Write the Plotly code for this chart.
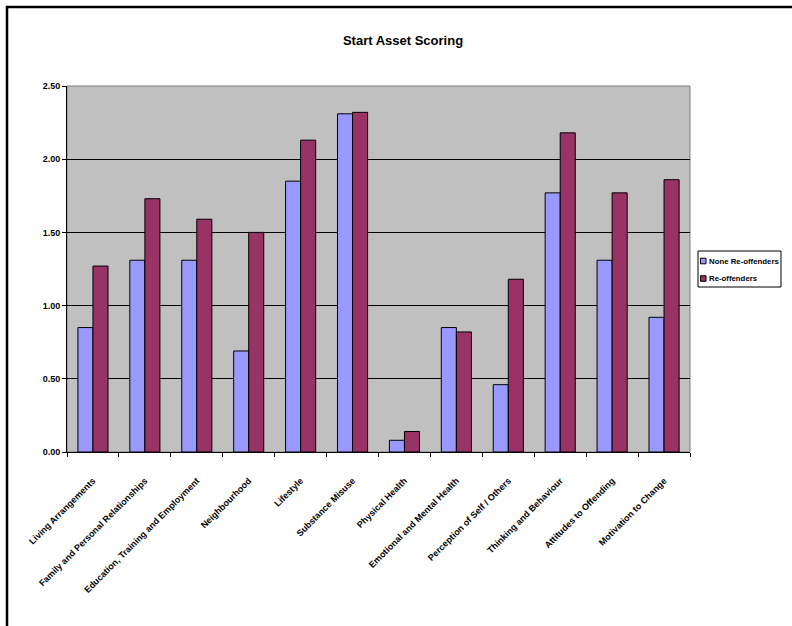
import plotly.graph_objects as go

categories = [
    "Living Arrangements",
    "Family and Personal Relationships",
    "Education, Training and Employment",
    "Neighbourhood",
    "Lifestyle",
    "Substance Misuse",
    "Physical Health",
    "Emotional and Mental Health",
    "Perception of Self / Others",
    "Thinking and Behaviour",
    "Attitudes to Offending",
    "Motivation to Change",
]
none_reoffenders = [0.85, 1.31, 1.31, 0.69, 1.85, 2.31, 0.08, 0.85, 0.46, 1.77, 1.31, 0.92]
reoffenders = [1.27, 1.73, 1.59, 1.50, 2.13, 2.32, 0.14, 0.82, 1.18, 2.18, 1.77, 1.86]
series_names = ["None Re-offenders", "Re-offenders"]
series_colors = ["#9999FF", "#993366"]
y_ticks = [0, 0.5, 1.0, 1.5, 2.0, 2.5]

W, H = 792, 626
ML, MR, MT, MB = 67, 102, 86, 174
PW, PH = W - ML - MR, H - MT - MB
FONT = "Liberation Sans, Arial, sans-serif"


def px_x(p):
    return (p - ML) / PW


def px_y(p):
    return (H - MB - p) / PH


fig = go.Figure()
for name, vals, col in zip(series_names, [none_reoffenders, reoffenders], series_colors):
    fig.add_trace(go.Bar(
        x=categories, y=vals, name=name,
        marker=dict(color=col, line=dict(color="#000000", width=1)),
        showlegend=False,
    ))

shapes = [
    dict(type="rect", xref="paper", yref="paper", x0=0, x1=1, y0=0, y1=1,
         line=dict(color="#808080", width=1), layer="below"),
    dict(type="rect", xref="paper", yref="paper",
         x0=px_x(7), x1=px_x(810), y0=px_y(7), y1=px_y(650),
         line=dict(color="#000000", width=2.5)),
    dict(type="rect", xref="paper", yref="paper",
         x0=px_x(698), x1=px_x(781), y0=px_y(251), y1=px_y(287),
         line=dict(color="#000000", width=1), fillcolor="#FFFFFF"),
]
annotations = []
for i, (name, col) in enumerate(zip(series_names, series_colors)):
    cy = 261 + i * 17.5
    shapes.append(dict(type="rect", xref="paper", yref="paper",
                       x0=px_x(700.5), x1=px_x(706), y0=px_y(cy + 2.8), y1=px_y(cy - 2.8),
                       line=dict(color="#000000", width=1), fillcolor=col))
    annotations.append(dict(text=name, xref="paper", yref="paper",
                            x=px_x(707), y=px_y(cy), xanchor="left", yanchor="middle",
                            showarrow=False,
                            font=dict(family=FONT, size=7.8, color="#000000", weight="bold")))

fig.update_layout(
    width=W, height=H,
    margin=dict(l=ML, r=MR, t=MT, b=MB, autoexpand=False),
    paper_bgcolor="#FFFFFF",
    plot_bgcolor="#C0C0C0",
    barmode="group",
    bargap=0.42,
    bargroupgap=0,
    title=dict(text="Start Asset Scoring", x=403 / W, xanchor="center",
               y=1 - 40 / H, yanchor="middle", yref="container",
               font=dict(family=FONT, size=13, color="#000000", weight="bold")),
    font=dict(family=FONT, size=9, color="#000000"),
    shapes=shapes,
    annotations=annotations,
    xaxis=dict(
        type="category",
        tickangle=-45,
        tickson="boundaries",
        ticks="outside", ticklen=4, tickcolor="#000000",
        ticklabelstandoff=19,
        showline=True, linecolor="#000000", linewidth=1,
        showgrid=False,
        tickfont=dict(family=FONT, size=9, color="#000000", weight="bold"),
    ),
    yaxis=dict(
        range=[0, 2.5],
        tickvals=y_ticks,
        tickformat=".2f",
        ticks="outside", ticklen=4, tickcolor="#000000",
        showline=True, linecolor="#000000", linewidth=1,
        showgrid=True, gridcolor="#000000", gridwidth=1,
        zeroline=False,
        tickfont=dict(family=FONT, size=9, color="#000000", weight="bold"),
    ),
)

fig.write_html("out.html", config={"displayModeBar": False},
               post_script="document.body.style.margin='0px';")
